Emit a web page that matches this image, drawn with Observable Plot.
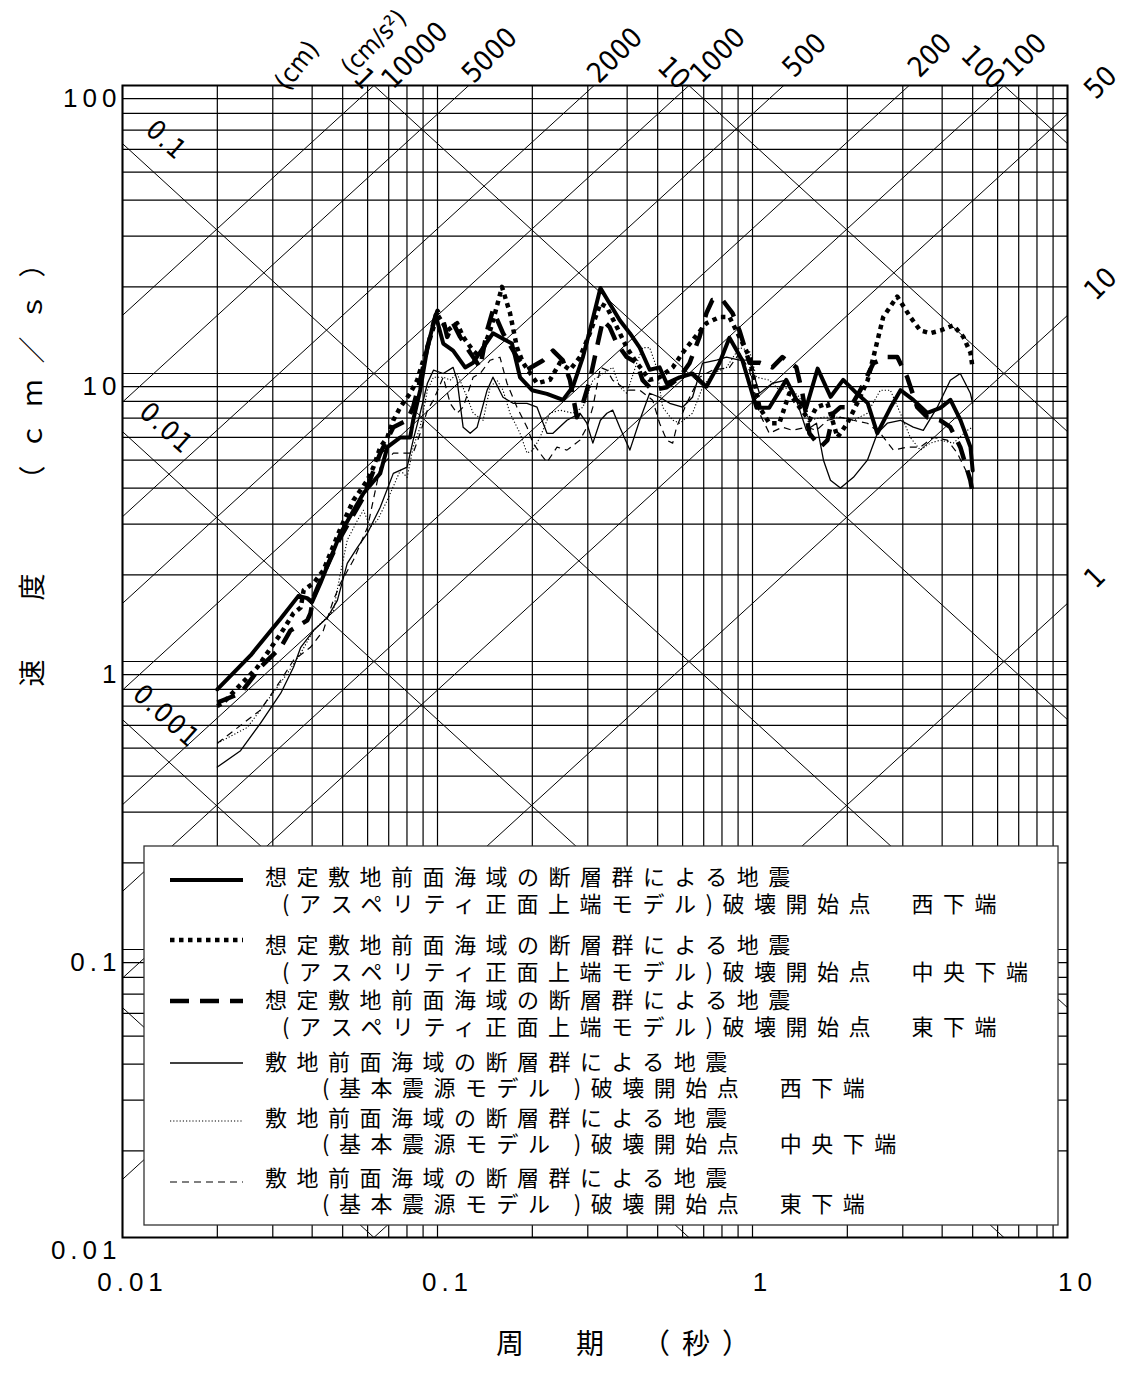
<!DOCTYPE html>
<html><head><meta charset="utf-8">
<script src="https://cdn.jsdelivr.net/npm/d3@7"></script>
<script src="https://cdn.jsdelivr.net/npm/@observablehq/plot@0.6"></script>
<style>
body{margin:0;background:#fff;}
g[aria-description="ticks"] text{letter-spacing:5px;}
g[aria-description="ytitle"] text{letter-spacing:16px;}
g[aria-description="xtitle"] text{letter-spacing:12px;}
g[aria-description="dleft"] text{letter-spacing:2px;}
</style></head><body><div id="chart"></div>
<script>
// ---------- data ----------
const xTicks = [0.01, 0.1, 1, 10];
const xTickLabels = ["0.01", "0.1", "1", "10"];
const yTicks = [100, 10, 1, 0.1, 0.01];
const yTickLabels = ["100", "10", "1", "0.1", "0.01"];
const gridMultiples = [1, 2, 3, 4, 5, 6, 7, 8, 9];
const decadesT = [0.01, 0.1, 1];
const decadesSv = [0.01, 0.1, 1, 10];
// tripartite reference lines
const accelLines = [1, 10, 50, 100, 200, 500, 1000, 2000, 5000, 10000];   // cm/s2
const dispLines = [0.0001, 0.001, 0.01, 0.1, 1, 10, 100];                 // cm
const accelTopLabels = [10000, 5000, 2000, 1000, 500, 200, 100];
const accelRightLabels = [50, 10, 1];
const dispTopLabels = [1, 10, 100];
const dispLeftLabels = [0.1, 0.01, 0.001];

// series: [period (s), velocity (cm/s)]
const asperityWest = [[0.02,0.80],[0.0255,1.05],[0.0318,1.41],[0.0362,1.69],[0.0386,1.66],[0.04,1.61],[0.0425,1.87],[0.0457,2.28],[0.0492,2.79],[0.0582,3.84],[0.0658,4.5],[0.0693,5.55],[0.0762,6.0],[0.0819,6.0],[0.0837,6.88],[0.0881,8.75],[0.0929,12.3],[0.0986,16.0],[0.1043,12.7],[0.1121,12.0],[0.1224,10.5],[0.1298,10.9],[0.1396,12.3],[0.1501,13.8],[0.1614,13.2],[0.1724,12.7],[0.1828,9.7],[0.1996,8.75],[0.2226,8.5],[0.2502,8.1],[0.2691,9.0],[0.2895,11.4],[0.309,15.0],[0.329,19.8],[0.352,17.5],[0.379,15.3],[0.408,13.8],[0.4385,12.3],[0.4716,10.3],[0.507,10.5],[0.534,9.25],[0.587,9.7],[0.645,10.0],[0.714,9.0],[0.786,10.9],[0.845,13.3],[0.929,11.1],[1.03,7.6],[1.13,7.6],[1.28,9.5],[1.38,8.1],[1.48,7.6],[1.61,10.4],[1.77,8.3],[1.94,9.5],[2.15,8.5],[2.32,7.9],[2.49,6.2],[2.74,7.6],[2.95,8.75],[3.24,8.1],[3.59,7.3],[3.95,7.6],[4.25,8.1],[4.57,6.9],[4.92,5.55],[5.0,4.6]];
const asperityCenter = [[0.02,0.70],[0.0209,0.72],[0.0268,0.955],[0.0318,1.25],[0.0349,1.47],[0.0368,1.54],[0.0376,1.77],[0.0404,1.87],[0.0434,2.07],[0.0492,2.9],[0.0541,3.63],[0.0599,4.26],[0.0626,4.73],[0.0658,5.55],[0.0693,6.0],[0.0724,6.88],[0.0762,7.64],[0.0819,8.54],[0.0862,9.48],[0.0901,11.1],[0.095,13.4],[0.1,16.0],[0.1074,14.1],[0.1154,14.95],[0.1206,13.4],[0.1298,12.0],[0.1366,11.4],[0.1469,14.1],[0.1523,16.2],[0.1602,20.0],[0.1699,16.2],[0.1788,12.3],[0.1868,10.9],[0.207,9.25],[0.2275,9.5],[0.2448,10.9],[0.2633,10.3],[0.2832,11.4],[0.3046,13.8],[0.329,17.5],[0.3448,17.0],[0.3709,14.5],[0.399,12.3],[0.429,10.9],[0.4716,9.5],[0.507,9.7],[0.558,10.5],[0.6,11.8],[0.645,13.05],[0.714,14.95],[0.786,15.7],[0.845,15.7],[0.909,13.4],[0.978,11.4],[1.052,7.64],[1.131,6.72],[1.217,6.72],[1.309,8.54],[1.409,7.64],[1.516,6.88],[1.596,7.64],[1.73,7.88],[1.861,6.0],[2.0,6.72],[2.15,7.88],[2.32,9.48],[2.42,11.4],[2.6,15.7],[2.88,18.5],[3.17,15.7],[3.41,14.1],[3.67,13.8],[3.95,14.1],[4.34,14.7],[4.67,13.4],[4.92,11.8],[5.0,10.4]];
const asperityEast = [[0.02,0.72],[0.0237,0.776],[0.0274,0.955],[0.0318,1.12],[0.0341,1.28],[0.0386,1.39],[0.0395,1.47],[0.0404,1.67],[0.0425,1.91],[0.0492,2.70],[0.0582,3.72],[0.0658,5.29],[0.0724,6.51],[0.0801,6.88],[0.0837,7.64],[0.0881,9.48],[0.0929,12.3],[0.0971,14.95],[0.1,16.5],[0.1043,15.3],[0.1074,13.4],[0.1121,14.95],[0.118,13.4],[0.127,11.8],[0.1366,10.5],[0.1437,14.1],[0.15,16.6],[0.1614,13.8],[0.1788,11.4],[0.1924,10.3],[0.2162,11.1],[0.2326,12.0],[0.25,11.1],[0.2633,9.5],[0.2771,7.05],[0.2895,7.88],[0.3046,9.48],[0.3205,12.3],[0.3349,15.3],[0.352,14.5],[0.371,12.7],[0.399,11.4],[0.429,10.9],[0.448,9.48],[0.482,8.75],[0.534,8.96],[0.587,9.71],[0.631,10.86],[0.679,13.4],[0.714,16.2],[0.746,18.0],[0.803,18.0],[0.864,16.2],[0.909,14.1],[0.978,10.9],[1.052,10.9],[1.156,10.5],[1.244,11.4],[1.378,10.5],[1.44,8.54],[1.516,6.2],[1.643,5.55],[1.73,5.87],[1.807,7.28],[1.902,7.64],[2.046,7.64],[2.2,8.75],[2.419,10.86],[2.679,11.4],[2.883,11.4],[3.099,9.71],[3.334,7.64],[3.588,7.05],[3.946,6.88],[4.246,6.51],[4.568,5.55],[4.916,4.26],[5.0,3.84]];
const baseWest = [[0.02,0.43],[0.0237,0.49],[0.0274,0.61],[0.0318,0.776],[0.0349,0.955],[0.0368,1.12],[0.0404,1.28],[0.0447,1.42],[0.0481,1.63],[0.0517,2.19],[0.0557,2.49],[0.0599,2.79],[0.0658,3.43],[0.0724,4.5],[0.0801,4.73],[0.0837,5.87],[0.0881,7.28],[0.0929,9.25],[0.0971,10.27],[0.1043,10.0],[0.1121,10.5],[0.1154,9.48],[0.1206,6.51],[0.127,6.2],[0.1336,6.51],[0.1437,8.75],[0.15,9.71],[0.1614,8.27],[0.1737,7.88],[0.1924,7.88],[0.207,7.64],[0.2226,6.2],[0.2326,6.2],[0.2576,6.88],[0.2832,7.28],[0.298,6.72],[0.3113,5.73],[0.329,6.88],[0.345,7.28],[0.36,7.46],[0.379,6.51],[0.408,5.42],[0.4385,6.88],[0.4716,8.54],[0.507,8.27],[0.546,7.88],[0.6,7.64],[0.645,8.27],[0.694,10.86],[0.769,11.12],[0.827,11.39],[0.909,11.12],[0.978,11.12],[1.052,8.54],[1.156,9.25],[1.281,9.48],[1.378,8.08],[1.483,6.35],[1.596,6.72],[1.68,5.0],[1.768,4.26],[1.902,4.0],[2.091,4.36],[2.316,5.0],[2.491,6.2],[2.679,6.72],[2.947,6.88],[3.238,6.51],[3.485,6.35],[3.86,7.64],[4.246,9.48],[4.568,10.0],[4.916,8.54],[5.0,7.88]];
const baseCenter = [[0.02,0.52],[0.0249,0.59],[0.0289,0.734],[0.0334,0.91],[0.0368,1.07],[0.0404,1.28],[0.0467,1.5],[0.0492,2.03],[0.0517,2.64],[0.0557,3.09],[0.0582,3.35],[0.0612,2.93],[0.0644,3.09],[0.0693,3.63],[0.0762,4.61],[0.0801,4.36],[0.0837,5.55],[0.0881,6.51],[0.0929,8.75],[0.0971,9.71],[0.1043,9.71],[0.1097,9.48],[0.1154,10.0],[0.1242,8.27],[0.1298,7.28],[0.1396,6.88],[0.1469,8.96],[0.1545,9.48],[0.1614,8.75],[0.1699,7.28],[0.1828,6.2],[0.1924,5.29],[0.201,5.42],[0.2115,6.0],[0.2275,7.28],[0.2448,7.46],[0.2691,7.28],[0.2895,7.64],[0.3113,9.48],[0.3349,10.0],[0.36,10.5],[0.379,8.96],[0.399,8.54],[0.429,10.86],[0.448,12.3],[0.4716,12.3],[0.496,10.5],[0.5185,7.64],[0.558,6.88],[0.587,6.72],[0.645,7.28],[0.694,8.96],[0.746,10.0],[0.827,10.5],[0.909,12.3],[0.978,12.0],[1.029,9.71],[1.131,9.48],[1.217,8.75],[1.309,8.96],[1.409,8.27],[1.516,6.88],[1.68,7.05],[1.902,7.05],[2.091,6.88],[2.316,7.28],[2.546,8.75],[2.739,8.75],[2.947,7.28],[3.168,6.0],[3.409,5.42],[3.667,5.73],[3.946,5.87],[4.34,5.73],[4.808,6.35],[5.0,6.51]];
const baseEast = [[0.02,0.52],[0.0274,0.678],[0.0318,0.861],[0.0349,1.01],[0.0395,1.12],[0.0434,1.28],[0.0467,1.63],[0.0492,1.87],[0.0541,2.25],[0.06,2.93],[0.0658,4.73],[0.0724,5.29],[0.0837,5.29],[0.0881,6.2],[0.0929,7.46],[0.0971,8.08],[0.1043,9.71],[0.1097,7.88],[0.1154,7.28],[0.1206,7.64],[0.1298,9.71],[0.1366,10.0],[0.1469,11.12],[0.1579,11.39],[0.1662,9.25],[0.1788,7.64],[0.1924,6.51],[0.201,5.73],[0.2115,5.29],[0.2226,4.92],[0.2395,5.55],[0.2576,5.42],[0.2832,5.87],[0.298,6.51],[0.3113,7.64],[0.329,10.5],[0.345,10.27],[0.36,9.48],[0.399,8.75],[0.4385,8.75],[0.482,8.08],[0.507,6.72],[0.534,5.87],[0.558,5.73],[0.574,6.51],[0.618,7.88],[0.679,9.71],[0.746,10.27],[0.845,10.5],[0.909,11.76],[0.978,10.27],[1.052,7.28],[1.131,6.2],[1.244,6.51],[1.338,6.35],[1.483,6.51],[1.596,6.35],[1.73,6.88],[1.902,7.05],[2.091,6.88],[2.316,6.72],[2.546,6.2],[2.8,5.42],[3.099,5.55],[3.409,5.55],[3.749,6.0],[4.153,5.87],[4.469,5.29],[4.808,4.5],[5.0,4.03]];

const legendLine1 = ["想定敷地前面海域の断層群による地震","想定敷地前面海域の断層群による地震","想定敷地前面海域の断層群による地震","敷地前面海域の断層群による地震","敷地前面海域の断層群による地震","敷地前面海域の断層群による地震"];
const legendLine2 = ["(アスペリティ正面上端モデル)破壊開始点　西下端","(アスペリティ正面上端モデル)破壊開始点　中央下端","(アスペリティ正面上端モデル)破壊開始点　東下端","(基本震源モデル )破壊開始点　西下端","(基本震源モデル )破壊開始点　中央下端","(基本震源モデル )破壊開始点　東下端"];
const xTitle = "周　期　（秒）";
const yTitle = "速　度　 （ｃｍ／ｓ）";

// ---------- styles ----------
const SANS = "'Liberation Sans', Arial, sans-serif";
const NARROW = "'Liberation Sans Narrow','DejaVu Sans Condensed','Liberation Sans',sans-serif";
const CJK = "'Noto Sans CJK JP', sans-serif";
const seriesList = [
  {data: asperityWest,   w: 4,   dash: null,      cap: "round"},
  {data: asperityCenter, w: 4.5, dash: "4.5,4.5", cap: "butt"},
  {data: asperityEast,   w: 4.5, dash: "19,11",   cap: "butt"},
  {data: baseWest,       w: 1.3, dash: null,      cap: "round"},
  {data: baseCenter,     w: 1.1, dash: "1.2,2",   cap: "butt"},
  {data: baseEast,       w: 1.2, dash: "7,5",     cap: "butt"}
];
// extra horizontal nudge (px) for crowded top labels
const topLabelNudge = {10000: 20, 1000: 8};
const TWO_PI = 2 * Math.PI;

const gridT = decadesT.flatMap(d => gridMultiples.map(m => m * d)).concat([10]);
const gridSv = decadesSv.flatMap(d => gridMultiples.map(m => m * d)).concat([100]);
const xTickTable = xTicks.map((v, i) => ({v, label: xTickLabels[i]}));
const yTickTable = yTicks.map((v, i) => ({v, label: yTickLabels[i]}));

const seriesMarks = seriesList.slice().reverse().map(s => Plot.line(s.data, {
  x: d => d[0], y: d => d[1], stroke: "#000", strokeWidth: s.w,
  strokeDasharray: s.dash, strokeLinecap: s.cap, strokeLinejoin: "round"
}));

const labelFont = {fontSize: 28, fontFamily: NARROW};
const topLabelMarks = accelTopLabels.map(a => Plot.text([a], {
  x: v => TWO_PI * 100 / v, y: () => 100, text: v => String(v),
  textAnchor: "middle", rotate: -45, dx: 21 + (topLabelNudge[a] || 0), dy: -30, ...labelFont
}));

const plot = Plot.plot({
  width: 1125, height: 1399,
  marginLeft: 122, marginRight: 58, marginTop: 85, marginBottom: 162,
  x: {type: "log", domain: [0.01, 10], axis: null},
  y: {type: "log", domain: [0.01, 100], axis: null},
  style: {background: "#fff", color: "#000", fontFamily: SANS, overflow: "visible"},
  marks: [
    Plot.ruleX(gridT, {stroke: "#000", strokeWidth: 1.2}),
    Plot.ruleY(gridSv, {stroke: "#000", strokeWidth: 1.2}),
    Plot.link(accelLines, {x1: () => 0.001, y1: a => a * 0.001 / TWO_PI, x2: () => 100, y2: a => a * 100 / TWO_PI, stroke: "#000", strokeWidth: 1, clip: true}),
    Plot.link(dispLines, {x1: () => 0.001, y1: d => TWO_PI * d / 0.001, x2: () => 100, y2: d => TWO_PI * d / 100, stroke: "#000", strokeWidth: 1, clip: true}),
    ...seriesMarks,
    Plot.frame({stroke: "#000", strokeWidth: 2}),
    // axis tick labels
    Plot.text(yTickTable, {x: () => 0.01, y: d => d.v, text: d => d.label, textAnchor: "end", dx: -1, dy: 13, fontSize: 26, fontFamily: SANS, ariaDescription: "ticks"}),
    Plot.text(xTickTable, {x: d => d.v, y: () => 0.01, text: d => d.label, dx: 10, dy: 45, fontSize: 26, fontFamily: SANS, ariaDescription: "ticks"}),
    // tripartite labels
    ...topLabelMarks,
    Plot.text(accelRightLabels, {x: () => 10, y: a => a * 10 / TWO_PI, text: a => String(a), textAnchor: "start", rotate: -45, dx: 22, dy: -20, ...labelFont}),
    Plot.text(dispTopLabels, {x: d => TWO_PI * d / 100, y: () => 100, text: d => String(d), textAnchor: "end", rotate: 45, dx: -4, dy: -1, ...labelFont}),
    Plot.text(dispLeftLabels, {x: () => 0.01, y: d => TWO_PI * d / 0.01, text: d => String(d), textAnchor: "middle", rotate: 42, dx: 44, dy: -3, fontSize: 27, fontFamily: NARROW, ariaDescription: "dleft"}),
    Plot.text(["(cm)"], {x: () => TWO_PI / 100, y: () => 100, text: d => d, rotate: -52, dx: -77, dy: -20, fontSize: 26, fontFamily: NARROW}),
    Plot.text(["(cm/s²)"], {x: () => TWO_PI / 100, y: () => 100, text: d => d, rotate: -45, dx: 0, dy: -43, fontSize: 25, fontFamily: NARROW}),
    // axis titles
    Plot.text([yTitle], {frameAnchor: "left", text: d => d, textAnchor: "middle", rotate: -90, dx: -89, dy: -201, fontSize: 27, fontFamily: CJK, ariaDescription: "ytitle"}),
    Plot.text([xTitle], {frameAnchor: "bottom", text: d => d, textAnchor: "start", dx: -99, dy: 116, fontSize: 28, fontFamily: CJK, ariaDescription: "xtitle"})
  ]
});

// ---------- legend (inside the plot frame, lower part) ----------
const lg = d3.select(plot).append("g").attr("aria-label", "legend").attr("text-anchor", "start");
lg.append("rect").attr("x", 144).attr("y", 846).attr("width", 914).attr("height", 379)
  .attr("fill", "#fff").attr("stroke", "#333").attr("stroke-width", 1.3);
const rowSampleY = [880, 940, 1001, 1063, 1121, 1182];
const rowText1Y = [875, 943, 998, 1060, 1116, 1176];
const rowText2Y = [902, 970, 1025, 1086, 1142, 1202];
const row2X = [282, 282, 282, 322, 322, 322];
seriesList.forEach((s, i) => {
  lg.append("line").attr("x1", 170).attr("x2", 243).attr("y1", rowSampleY[i]).attr("y2", rowSampleY[i])
    .attr("stroke", "#000").attr("stroke-width", s.w).attr("stroke-dasharray", s.dash).attr("stroke-linecap", "butt");
  lg.append("text").attr("x", 265).attr("y", rowText1Y[i]).attr("dominant-baseline", "central").attr("text-anchor", "start")
    .attr("font-family", CJK).attr("font-size", 22).attr("letter-spacing", 9.5).attr("fill", "#000").text(legendLine1[i]);
  lg.append("text").attr("x", row2X[i]).attr("y", rowText2Y[i]).attr("dominant-baseline", "central").attr("text-anchor", "start")
    .attr("font-family", CJK).attr("font-size", 22).attr("letter-spacing", 9.5).attr("fill", "#000").text(legendLine2[i]);
});

document.getElementById("chart").appendChild(plot);
</script></body></html>
